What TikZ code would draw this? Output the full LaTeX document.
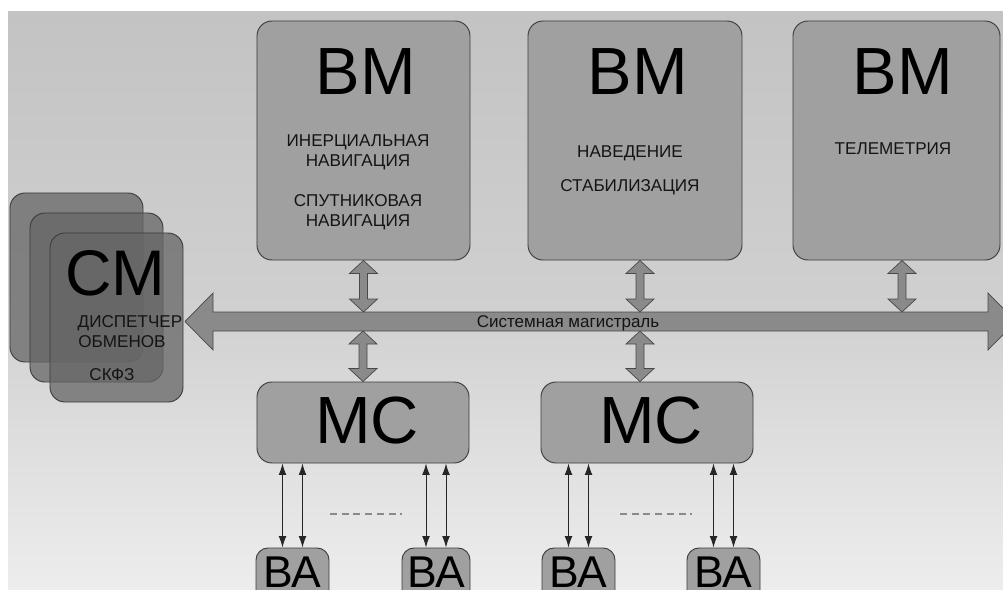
\documentclass[tikz,border=0pt]{standalone}
\usepackage{fontspec}
\setmainfont{Liberation Sans}
\usetikzlibrary{calc,arrows.meta}
\definecolor{boxfill}{HTML}{A0A0A0}
\definecolor{boxline}{HTML}{3C3C3C}
\definecolor{cardfill}{HTML}{666666}
\definecolor{busfill}{HTML}{8A8A8A}
\definecolor{busline}{HTML}{484848}
\definecolor{bgtop}{HTML}{C3C3C3}
\definecolor{bgbot}{HTML}{EDEDED}
\definecolor{dashgray}{HTML}{8A8A8A}
\definecolor{smalltext}{HTML}{141414}

% vertical double-headed link arrow between two points on one vertical line
\newcommand\vlink[2]{%
  \draw[linkshape] (#1) -- ($(#1)+(14,13)$) -- ($(#1)+(4,13)$) -- ($(#2)+(4,-13)$)
    -- ($(#2)+(14,-13)$) -- (#2) -- ($(#2)+(-14,-13)$) -- ($(#2)+(-4,-13)$)
    -- ($(#1)+(-4,13)$) -- ($(#1)+(-14,13)$) -- cycle;}

\begin{document}
\begin{tikzpicture}[x=0.03cm,y=-0.03cm,
  box/.style={draw=boxline,fill=boxfill,line width=0.8pt,rounded corners=0.45cm,inner sep=0pt},
  card/.style={draw=boxline,fill=cardfill,fill opacity=0.75,line width=0.8pt,rounded corners=0.45cm,
               inner sep=0pt,minimum width=3.99cm,minimum height=5.07cm},
  bigtxt/.style={inner sep=0pt,anchor=base,font=\fontsize{57}{60}\selectfont},
  batxt/.style={inner sep=0pt,anchor=base,font=\fontsize{38}{42}\selectfont},
  smtxt/.style={inner sep=0pt,anchor=base,text=smalltext,font=\fontsize{14.6}{17}\selectfont},
  linkshape/.style={draw=busline,fill=busfill,line width=0.6pt,line join=miter},
  wire/.style={draw=black!85,line width=0.8pt,{Latex[length=3.4mm,width=2.3mm]}-{Latex[length=3.4mm,width=2.3mm]}},
  dots/.style={draw=dashgray,line width=1.4pt,dash pattern=on 6pt off 4pt}]

\useasboundingbox (0,0) rectangle (1003,590);
\begin{scope}
\clip (0,0) rectangle (1003,590);
% backdrop
\fill[white] (0,0) rectangle (1003,590);
\shade[top color=bgtop,bottom color=bgbot,middle color=bgtop!70!bgbot] (8,12) rectangle (1003,590);

% computing modules
\node[box,minimum width=6.39cm,minimum height=7.17cm] (vm1) at (363.5,140.5) {};
\node[box,minimum width=6.42cm,minimum height=7.17cm] (vm2) at (635,140.5) {};
\node[box,minimum width=6.21cm,minimum height=7.17cm] (vm3) at (896.5,140.5) {};

\node[bigtxt] (vm1t) at (366,95) {ВМ};
\node[smtxt] (vm1a) at (358,146) {ИНЕРЦИАЛЬНАЯ};
\node[smtxt] (vm1b) at (358,166) {НАВИГАЦИЯ};
\node[smtxt] (vm1c) at (358,206) {СПУТНИКОВАЯ};
\node[smtxt] (vm1d) at (358,226) {НАВИГАЦИЯ};

\node[bigtxt] (vm2t) at (638,95) {ВМ};
\node[smtxt] (vm2a) at (630,157) {НАВЕДЕНИЕ};
\node[smtxt] (vm2b) at (630,191) {СТАБИЛИЗАЦИЯ};

\node[bigtxt] (vm3t) at (903,95) {ВМ};
\node[smtxt] (vm3a) at (893,154) {ТЕЛЕМЕТРИЯ};

% stacked system module cards
\node[card] (cm1) at (76.5,277.5) {};
\node[card] (cm2) at (96.5,297.5) {};
\node[card] (cm3) at (116.5,317.5) {};
\node[bigtxt,font=\fontsize{55}{60}\selectfont] (cmt) at (115,295) {СМ};
\node[smtxt] (cma) at (130,327) {ДИСПЕТЧЕР};
\node[smtxt] (cmb) at (122,347) {ОБМЕНОВ};
\node[smtxt] (cmc) at (112,380) {СКФЗ};

% system bus
\coordinate (bt) at (0,312);
\coordinate (bb) at (0,331);
\draw[linkshape] (185,321.5) -- (213,293) -- (213,312) -- (988,312) -- (988,293)
  -- (1016,321.5) -- (988,350) -- (988,331) -- (213,331) -- (213,350) -- cycle;
\node[inner sep=0pt,anchor=base,text=smalltext,font=\fontsize{14.5}{17}\selectfont] (busl) at (568,327) {Системная магистраль};

% bus controllers
\node[box,minimum width=6.36cm,minimum height=2.43cm] (mc1) at (363,422.5) {};
\node[box,minimum width=6.36cm,minimum height=2.43cm] (mc2) at (647,422.5) {};
\node[bigtxt] (mc1t) at (367,443) {МС};
\node[bigtxt] (mc2t) at (651,443) {МС};

% links between modules and the bus
\coordinate (x2) at (640,0);
\coordinate (x3) at (902,0);
\vlink{vm1.south}{vm1.south |- bt}
\vlink{mc1.north |- bb}{mc1.north}
\vlink{vm2.south -| x2}{x2 |- bt}
\vlink{x2 |- bb}{mc2.north -| x2}
\vlink{vm3.south -| x3}{x3 |- bt}

% peripheral devices
\node[box,rounded corners=0.36cm,minimum width=2.19cm,minimum height=1.71cm] (ba1) at (292.5,576.5) {};
\node[box,rounded corners=0.36cm,minimum width=2.04cm,minimum height=1.71cm] (ba2) at (436,576.5) {};
\node[box,rounded corners=0.36cm,minimum width=2.19cm,minimum height=1.71cm] (ba3) at (578.5,576.5) {};
\node[box,rounded corners=0.36cm,minimum width=2.19cm,minimum height=1.71cm] (ba4) at (723.5,576.5) {};
\node[batxt] (ba1t) at (292.5,587) {ВА};
\node[batxt] (ba2t) at (436,587) {ВА};
\node[batxt] (ba3t) at (578.5,587) {ВА};
\node[batxt] (ba4t) at (723.5,587) {ВА};

% device wires
\foreach \b/\m in {ba1/mc1,ba2/mc1,ba3/mc2,ba4/mc2}{
  \draw[wire] ([xshift=-0.3cm]\b.north) -- ([xshift=-0.3cm]\b.north |- \m.south);
  \draw[wire] ([xshift=0.3cm]\b.north) -- ([xshift=0.3cm]\b.north |- \m.south);
}
\coordinate (d1a) at (330,514);
\coordinate (d1b) at (402,514);
\coordinate (d2a) at (620,514);
\coordinate (d2b) at (692,514);
\draw[dots] (d1a) -- (d1b);
\draw[dots] (d2a) -- (d2b);
\end{scope}
\end{tikzpicture}
\end{document}
